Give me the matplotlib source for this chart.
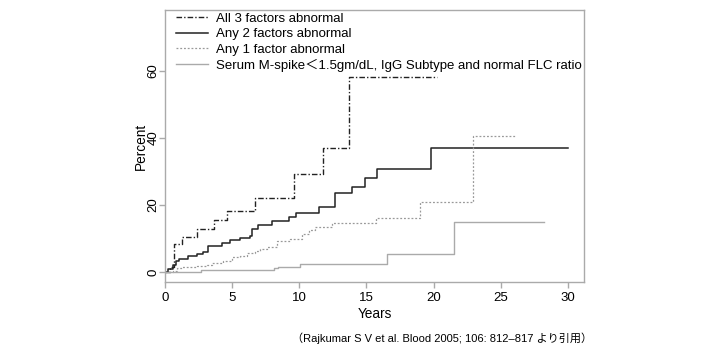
import matplotlib
matplotlib.use("Agg")
import matplotlib.pyplot as plt

plt.rcParams['font.family'] = ['Liberation Sans', 'Noto Sans CJK JP', 'DejaVu Sans']

# Kaplan-Meier style step data (years, percent)
all3_t = [0, 0.37, 0.7, 1.3, 2.4, 3.64, 4.64, 6.7, 9.6, 11.8, 13.7, 20.25]
all3_p = [0, 1.7, 8.3, 10.4, 12.8, 15.4, 18.1, 22.1, 29.2, 37.1, 58.1, 58.1]

any2_t = [0, 0.25, 0.6, 0.8, 1.06, 1.74, 2.4, 2.85, 3.2, 4.28, 4.87, 5.58, 6.33,
          6.5, 6.95, 8.0, 9.25, 9.75, 11.5, 12.67, 13.95, 14.9, 15.8, 19.8, 30]
any2_p = [0, 1.0, 2.2, 3.2, 3.9, 4.9, 5.5, 6.1, 7.9, 8.6, 9.6, 10.1, 10.8,
          12.9, 14.1, 15.3, 16.4, 17.6, 19.5, 23.5, 25.4, 28.0, 30.6, 36.9, 36.9]

any1_t = [0, 0.62, 0.92, 1.24, 2.36, 3.1, 3.47, 4.34, 4.96, 5.58, 6.08, 6.7, 7.07,
          7.57, 8.35, 9.3, 10.2, 10.7, 11.2, 12.45, 15.7, 19.0, 22.9, 26.1]
any1_p = [0, 0.5, 1.2, 1.5, 2.0, 2.3, 2.7, 3.4, 4.5, 4.9, 5.7, 6.3, 7.0,
          7.4, 9.4, 9.8, 11.3, 12.6, 13.6, 14.6, 16.1, 20.8, 40.6, 40.6]

serum_t = [0, 2.65, 8.1, 8.4, 10.05, 16.5, 21.55, 28.25]
serum_p = [0, 0.7, 1.4, 1.7, 2.4, 5.4, 14.9, 14.9]

labels = ["All 3 factors abnormal",
          "Any 2 factors abnormal",
          "Any 1 factor abnormal",
          "Serum M-spike\uff1c1.5gm/dL, IgG Subtype and normal FLC ratio"]

x_ticks = [0, 5, 10, 15, 20, 25, 30]
y_ticks = [0, 20, 40, 60]

fig = plt.figure(figsize=(7.2, 3.52), dpi=100)
ax = fig.add_axes([165 / 720, 1 - 282 / 352, (584 - 165) / 720, (282 - 10) / 352])

ax.step(all3_t, all3_p, where='post', color='#222222', lw=1.0,
        dashes=(4, 1.5, 1, 1.5), label=labels[0])
ax.step(any2_t, any2_p, where='post', color='#222222', lw=1.1, label=labels[1])
ax.step(any1_t, any1_p, where='post', color='#999999', lw=0.9,
        dashes=(1.5, 1.5), label=labels[2])
ax.step(serum_t, serum_p, where='post', color='#aaaaaa', lw=1.0, label=labels[3])

ax.set_xlim(0, 31.2)
ax.set_ylim(-2.9, 78)
ax.set_xticks(x_ticks)
ax.set_yticks(y_ticks)
ax.set_yticklabels([str(v) for v in y_ticks], rotation=90, va='center')

for s in ax.spines.values():
    s.set_color('#aaaaaa')
    s.set_linewidth(1.0)
ax.tick_params(colors='#aaaaaa', labelcolor='black', labelsize=9.5, length=4, width=1.0)
ax.tick_params(axis='y', pad=0)

ax.set_xlabel("Years", fontsize=9.8, labelpad=2)
ax.set_ylabel("Percent", fontsize=9.8)
ax.yaxis.set_label_coords((148 - 165) / 419, 0.5)

ax.legend(loc='upper left', bbox_to_anchor=(176 / 720, 1 - 12.5 / 352),
          bbox_transform=fig.transFigure, frameon=False, fontsize=9.5,
          handlelength=2.4, handletextpad=0.6, labelspacing=0.24,
          borderpad=0, borderaxespad=0)

fig.text(592 / 720, 1 - 338 / 352,
         "\uff08Rajkumar S V et al. Blood 2005; 106: 812\u2013817 より引用\uff09",
         ha='right', va='center', fontsize=8)

fig.savefig("out.png", dpi=100)
